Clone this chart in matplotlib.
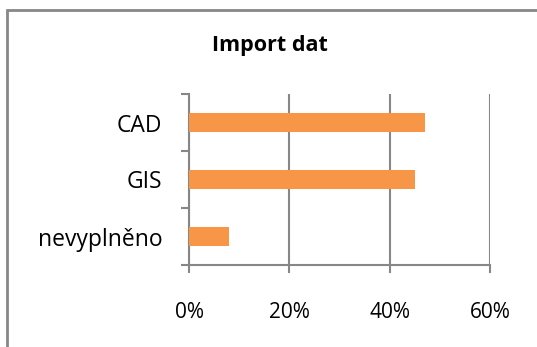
import numpy as np
import matplotlib
matplotlib.use('Agg')
import matplotlib.pyplot as plt
import matplotlib.ticker
from matplotlib.patches import Rectangle

# data (share of answers)
categories = ['nevyplněno', 'GIS', 'CAD']
shares = [8, 45, 47]
x_ticks = [0, 20, 40, 60]
title = 'Import dat'

orange = '#F79646'
gray = '#878787'

plt.rcParams['font.family'] = ['Open Sans', 'DejaVu Sans']

fig = plt.figure(figsize=(5.37, 3.47), dpi=100, facecolor='white')

# outer chart frame (runs off the right and bottom edge)
frame = Rectangle((7.5 / 537, -0.1), 1.2, 1 - 10 / 347 + 0.1, transform=fig.transFigure,
                  fill=False, edgecolor=gray, lw=2.0, zorder=0)
fig.add_artist(frame)

ax = fig.add_axes([189 / 537, 1 - 265 / 347, (490 - 189) / 537, (265 - 94) / 347])
ypos = np.arange(len(categories))
ax.barh(ypos, shares, height=0.33, color=orange, zorder=3)

ax.set_xlim(0, 60)
ax.set_ylim(-0.5, len(categories) - 0.5)
ax.set_xticks(x_ticks)
ax.xaxis.set_major_formatter(matplotlib.ticker.FuncFormatter(lambda v, p: '%d%%' % v))
ax.set_yticks(ypos)
ax.set_yticklabels(categories)
ax.set_yticks(np.arange(len(categories) + 1) - 0.5, minor=True)

ax.grid(axis='x', color=gray, lw=1.5, zorder=1)
for s in ['top', 'right']:
    ax.spines[s].set_visible(False)
for s in ['left', 'bottom']:
    ax.spines[s].set_color(gray)
    ax.spines[s].set_linewidth(1.5)

ax.tick_params(axis='y', which='major', length=0, pad=19, labelsize=16.5)
ax.tick_params(axis='y', which='minor', length=6, width=1.5, color=gray)
ax.tick_params(axis='x', which='major', length=5.5, width=1.5, color=gray, pad=21, labelsize=15)

fig.text(270 / 537, 1 - 50.7 / 347, title, ha='center', va='baseline',
         fontsize=15.5, fontweight='bold')

fig.savefig('out.png', dpi=100, facecolor='white')
